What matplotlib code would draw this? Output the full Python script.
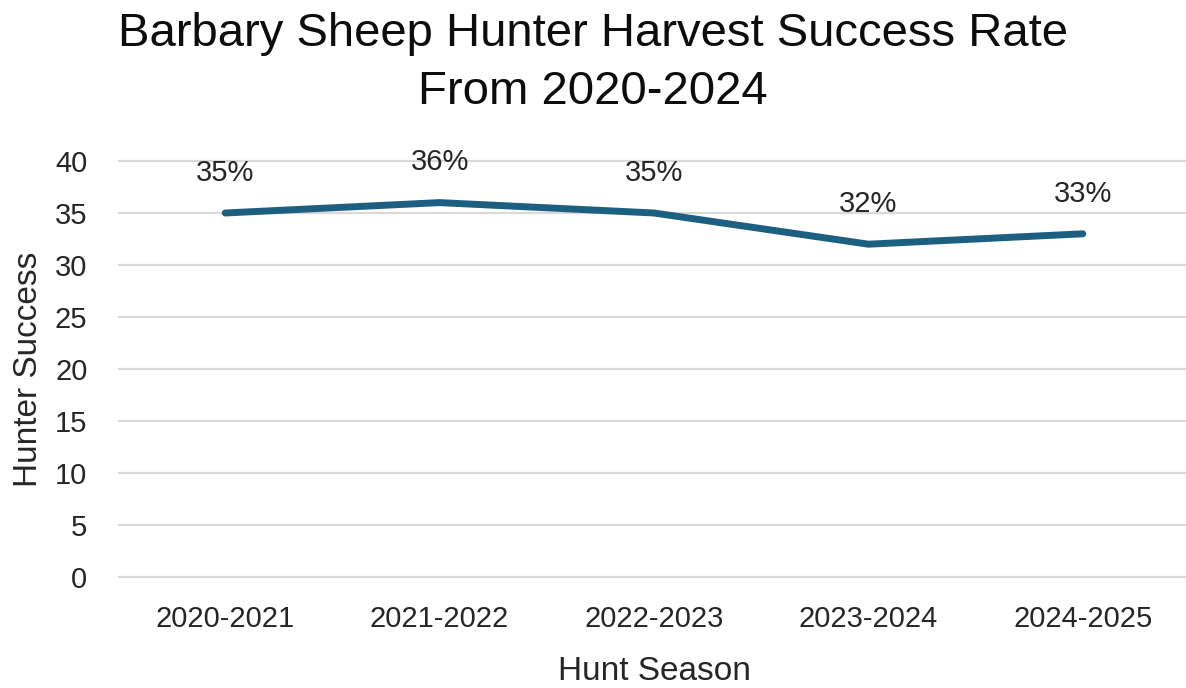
import matplotlib.pyplot as plt

# data
seasons = ['2020-2021', '2021-2022', '2022-2023', '2023-2024', '2024-2025']
success = [35, 36, 35, 32, 33]
labels = ['35%', '36%', '35%', '32%', '33%']
y_ticks = [0, 5, 10, 15, 20, 25, 30, 35, 40]

plt.rcParams['font.family'] = ['Liberation Sans', 'DejaVu Sans']

W, H = 1186, 688
fig = plt.figure(figsize=(W / 100, H / 100), dpi=100)

# axes position in pixels (y=0 at 577px, y=40 at 161px)
ppu = 416 / 40
left, right = 118, 1190
bottom = (H - 577) - ppu
height = 416 + 2 * ppu
ax = fig.add_axes([left / W, bottom / H, (right - left) / W, height / H])

x = list(range(len(seasons)))
ax.plot(x, success, color='#1d5f80', linewidth=5, solid_capstyle='round', zorder=3)

for xi, yi, lab in zip(x, success, labels):
    ax.annotate(lab, (xi, yi), xytext=(0, 29), textcoords='offset points',
                ha='center', va='center', fontsize=21, color='#262626')

ax.set_xlim(-0.5, 4.5)
ax.set_ylim(-1, 41)
ax.set_yticks(y_ticks)
ax.set_xticks(x)
ax.set_xticklabels(seasons)
ax.tick_params(axis='both', length=0, labelsize=21, labelcolor='#262626')
ax.tick_params(axis='x', pad=13)
ax.tick_params(axis='y', pad=22)
ax.grid(axis='y', color='#d9d9d9', linewidth=1.6)
ax.set_axisbelow(True)
for s in ax.spines.values():
    s.set_visible(False)

ax.set_xlabel('Hunt Season', fontsize=24, color='#262626', labelpad=16)
ax.set_ylabel('Hunter Success', fontsize=24, color='#262626', labelpad=8)

fig.text(0.5, 1 - 63 / H, 'Barbary Sheep Hunter Harvest Success Rate\nFrom 2020-2024',
         ha='center', va='center', fontsize=34, color='#0d0d0d', linespacing=1.4)

fig.savefig('out.png', dpi=100)
